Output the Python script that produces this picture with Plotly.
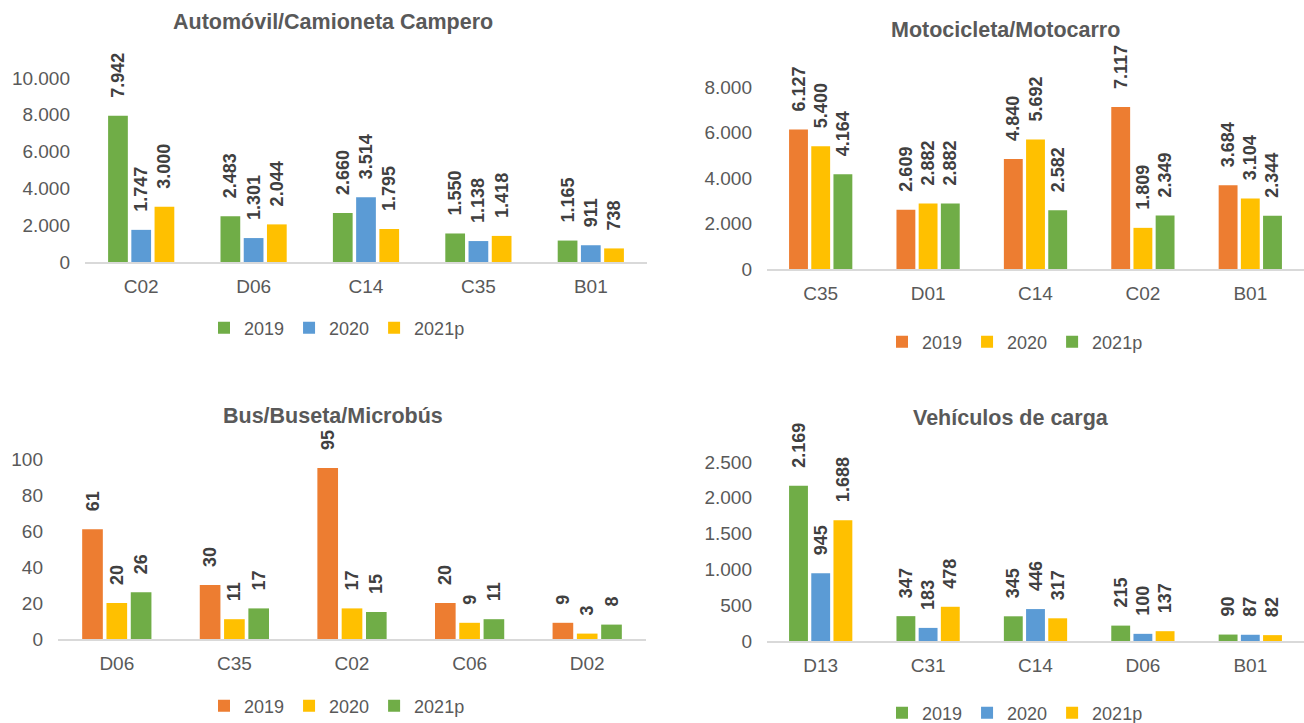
import plotly.graph_objects as go

W, H = 1304, 723

# ---------------- data ----------------
auto_cats = ["C02", "D06", "C14", "C35", "B01"]
auto_2019 = [7942, 2483, 2660, 1550, 1165]
auto_2020 = [1747, 1301, 3514, 1138, 911]
auto_2021 = [3000, 2044, 1795, 1418, 738]

moto_cats = ["C35", "D01", "C14", "C02", "B01"]
moto_2019 = [6127, 2609, 4840, 7117, 3684]
moto_2020 = [5400, 2882, 5692, 1809, 3104]
moto_2021 = [4164, 2882, 2582, 2349, 2344]

bus_cats = ["D06", "C35", "C02", "C06", "D02"]
bus_2019 = [61, 30, 95, 20, 9]
bus_2020 = [20, 11, 17, 9, 3]
bus_2021 = [26, 17, 15, 11, 8]

carga_cats = ["D13", "C31", "C14", "D06", "B01"]
carga_2019 = [2169, 347, 345, 215, 90]
carga_2020 = [945, 183, 446, 100, 87]
carga_2021 = [1688, 478, 317, 137, 82]

series_names = ["2019", "2020", "2021p"]
titles = ["Automóvil/Camioneta Campero", "Motocicleta/Motocarro",
          "Bus/Buseta/Microbús", "Vehículos de carga"]

GREEN, BLUE, YELLOW, ORANGE = "#70AD47", "#5B9BD5", "#FFC000", "#ED7D31"
FONT = "Arial, Liberation Sans, sans-serif"
TXT = "#595959"
LBL = "#404040"

# panel geometry in pixels: (x0, x1, ytop, ybottom), y range, dtick,
# title center (x, y), legend center (x, y)
panels = [
    dict(cats=auto_cats, vals=[auto_2019, auto_2020, auto_2021],
         colors=[GREEN, BLUE, YELLOW], px=(85, 647, 78, 262), rng=10000, dtick=2000,
         title=(333, 22), leg=(337, 328)),
    dict(cats=moto_cats, vals=[moto_2019, moto_2020, moto_2021],
         colors=[ORANGE, YELLOW, GREEN], px=(767, 1304, 87, 269), rng=8000, dtick=2000,
         title=(1005, 30), leg=(1015, 342)),
    dict(cats=bus_cats, vals=[bus_2019, bus_2020, bus_2021],
         colors=[ORANGE, YELLOW, GREEN], px=(58, 646, 459, 639), rng=100, dtick=20,
         title=(333, 416), leg=(337, 706)),
    dict(cats=carga_cats, vals=[carga_2019, carga_2020, carga_2021],
         colors=[GREEN, BLUE, YELLOW], px=(767, 1304, 462, 641), rng=2500, dtick=500,
         title=(1011, 418), leg=(1015, 713)),
]

fig = go.Figure()
layout = dict(
    width=W, height=H, margin=dict(l=0, r=0, t=0, b=0, pad=0, autoexpand=False),
    paper_bgcolor="white", plot_bgcolor="white",
    barmode="group", bargap=0.38, bargroupgap=0.15,
    separators=",.", font=dict(family=FONT, color=TXT),
    showlegend=True, annotations=[],
)

for i, p in enumerate(panels):
    n = "" if i == 0 else str(i + 1)
    xa, ya = "x" + n, "y" + n
    legname = "legend" + n
    for name, vals, col in zip(series_names, p["vals"], p["colors"]):
        fig.add_trace(go.Bar(
            x=p["cats"], y=vals, name=name, marker=dict(color=col, line=dict(width=0)),
            xaxis=xa, yaxis=ya, legend=legname,
            texttemplate="\u00a0\u00a0\u00a0%{y:,}", textposition="outside", textangle=-90,
            constraintext="none", cliponaxis=False,
            textfont=dict(family=FONT, size=18, color=LBL, weight="bold"),
            hoverinfo="skip",
        ))
    x0, x1, yt, yb = p["px"]
    layout["xaxis" + n] = dict(
        domain=[x0 / W, x1 / W], anchor=ya, showline=True, linecolor="#D9D9D9",
        linewidth=1.5, ticks="", showgrid=False, zeroline=False,
        tickfont=dict(family=FONT, size=19, color=TXT), ticklabelstandoff=6,
        fixedrange=True,
    )
    layout["yaxis" + n] = dict(
        domain=[1 - yb / H, 1 - yt / H], anchor=xa, range=[0, p["rng"]],
        dtick=p["dtick"], tick0=0, tickformat=",d", showline=False, showgrid=False,
        zeroline=False, ticks="", tickfont=dict(family=FONT, size=19, color=TXT),
        ticklabelstandoff=14, fixedrange=True,
    )
    lx, ly = p["leg"]
    layout[legname] = dict(
        orientation="h", x=lx / W, y=1 - ly / H, xanchor="center", yanchor="middle",
        font=dict(family=FONT, size=18, color=TXT), bgcolor="rgba(0,0,0,0)",
        itemwidth=30, traceorder="normal",
    )
    tx, ty = p["title"]
    layout["annotations"].append(dict(
        text="<b>" + titles[i] + "</b>", x=tx / W, y=1 - ty / H, xref="paper",
        yref="paper", xanchor="center", yanchor="middle", showarrow=False,
        font=dict(family=FONT, size=21.5, color=TXT),
    ))

fig.update_layout(**layout)
fig.write_html("out.html", config={"displayModeBar": False},
               post_script="document.body.style.margin='0';document.body.style.overflow='hidden';")
